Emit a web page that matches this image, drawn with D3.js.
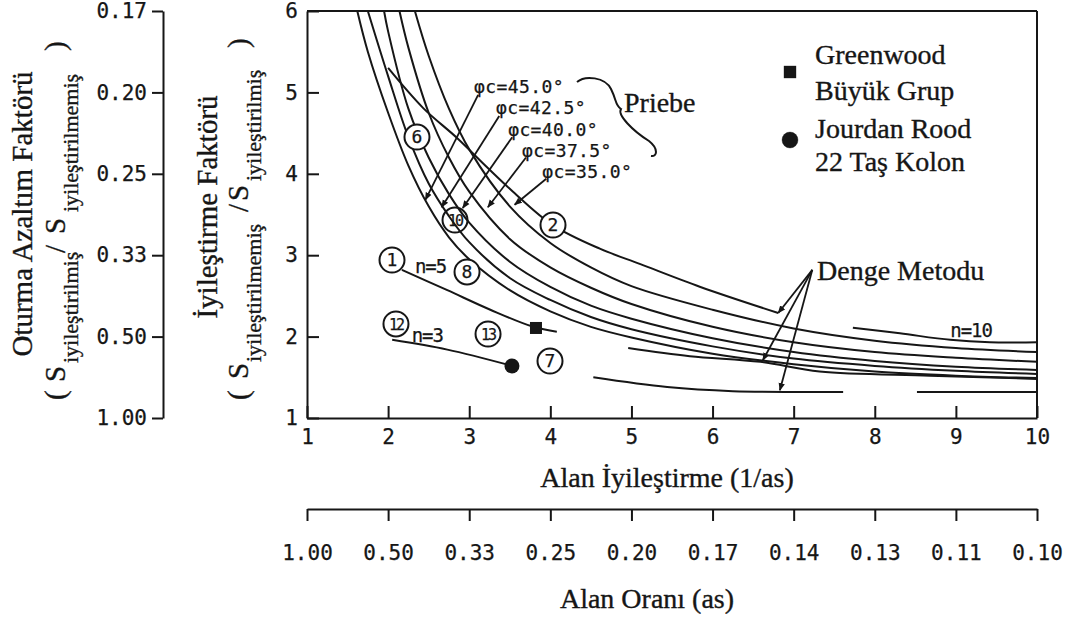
<!DOCTYPE html>
<html>
<head>
<meta charset="utf-8">
<script src="https://cdn.jsdelivr.net/npm/d3@7"></script>
<style>
  body { margin: 0; background: #fff; }
  svg text { fill: #161616; }
  .mono { font-family: "DejaVu Sans Mono", "Liberation Mono", monospace; stroke: #161616; stroke-width: 0.25px; }
  .serif { font-family: "Liberation Serif", "Times New Roman", serif; stroke: #161616; stroke-width: 0.35px; }
  .axis path, .axis line { stroke: #161616; stroke-width: 2; }
</style>
</head>
<body>
<svg id="chart" width="1065" height="619"></svg>
<script>
// ---- axis ticks ----------------------------------------------------------
const areaTicks = [1, 2, 3, 4, 5, 6, 7, 8, 9, 10];
const areaRatioLabels = ["1.00", "0.50", "0.33", "0.25", "0.20", "0.17", "0.14", "0.13", "0.11", "0.10"];
const factorTicks = [1, 2, 3, 4, 5, 6];
const settlementLabels = ["1.00", "0.50", "0.33", "0.25", "0.20", "0.17"];

// ---- Priebe curves: [A/As, improvement factor] ---------------------------
const priebeAngles = ["45.0", "42.5", "40.0", "37.5", "35.0"];
const priebe45 = [[2.33, 6.0], [2.5, 5.45], [2.75, 4.8], [3, 4.3], [3.5, 3.6], [4, 3.15], [4.5, 2.85], [5, 2.62], [6, 2.33], [7, 2.10], [8, 1.95], [9, 1.86], [10, 1.81]];
const priebe425 = [[2.14, 6.0], [2.25, 5.55], [2.5, 4.75], [2.75, 4.2], [3, 3.78], [3.5, 3.2], [4, 2.85], [4.5, 2.6], [5, 2.4], [6, 2.12], [7, 1.93], [8, 1.81], [9, 1.74], [10, 1.69]];
const priebe40 = [[1.95, 6.0], [2, 5.75], [2.25, 4.8], [2.5, 4.2], [2.75, 3.75], [3, 3.4], [3.5, 2.92], [4, 2.61], [4.5, 2.38], [5, 2.22], [6, 1.98], [7, 1.81], [8, 1.70], [9, 1.63], [10, 1.59]];
const priebe375 = [[1.75, 6.0], [2, 5.2], [2.25, 4.45], [2.5, 3.88], [2.75, 3.48], [3, 3.16], [3.5, 2.72], [4, 2.45], [4.5, 2.24], [5, 2.09], [6, 1.88], [7, 1.73], [8, 1.64], [9, 1.58], [10, 1.54]];
const priebe35 = [[1.62, 6.0], [1.75, 5.5], [2, 4.75], [2.25, 4.1], [2.5, 3.6], [2.75, 3.22], [3, 2.95], [3.5, 2.57], [4, 2.31], [4.5, 2.12], [5, 1.99], [6, 1.79], [7, 1.66], [8, 1.57], [9, 1.52], [10, 1.49]];

// label anchor [x, y] and leader line [from, to] for each angle
const angleLabelPos = [[3.06, 4.99], [3.33, 4.73], [3.48, 4.47], [3.65, 4.21], [3.90, 3.95]];
const angleLeaders = [
  [[3.11, 4.97], [2.46, 3.68]],
  [[3.37, 4.71], [2.66, 3.59]],
  [[3.53, 4.45], [2.92, 3.58]],
  [[3.70, 4.20], [3.23, 3.59]],
  [[3.95, 3.94], [3.56, 3.62]]
];

// ---- equilibrium method (Denge Metodu) curves -----------------------------
const dengeUpper = [[2.0, 5.30], [2.43, 4.81], [2.85, 4.44], [3.22, 4.08], [3.54, 3.78], [4.03, 3.37], [4.61, 3.08], [5.11, 2.89], [5.85, 2.61], [6.81, 2.29]];
const dengeN10 = [[7.73, 2.11], [8.31, 2.04], [8.93, 1.96], [9.42, 1.93], [10, 1.93]];
const dengeMiddle = [[4.96, 1.86], [5.72, 1.76], [6.59, 1.69], [7.32, 1.57], [8.68, 1.52], [10, 1.48]];
const dengeLowerA = [[4.53, 1.50], [5.44, 1.38], [6.25, 1.33], [7.61, 1.32]];
const dengeLowerB = [[8.52, 1.32], [10, 1.32]];
const dengeArrowFrom = [7.23, 2.82];
const dengeArrowTo = [[6.81, 2.29], [6.62, 1.71], [6.83, 1.34]];

// ---- field observations ---------------------------------------------------
const caseIds = ["6", "10", "2", "1", "8", "12", "13", "7"];
const caseX = [2.356, 2.825, 4.033, 2.048, 2.973, 2.097, 3.232, 3.996];
const caseY = [4.452, 3.432, 3.371, 2.941, 2.794, 2.155, 2.032, 1.700];
const greenwoodLine = [[2.17, 2.82], [2.73, 2.57], [3.26, 2.33], [3.79, 2.12], [4.08, 2.06]];
const greenwoodPoint = [3.823, 2.106];
const jourdanLine = [[2.05, 1.96], [2.73, 1.84], [3.53, 1.64]];
const jourdanPoint = [3.527, 1.639];
const nLabels = [{ t: "n=5", x: 2.33, y: 2.78 }, { t: "n=3", x: 2.29, y: 1.93 }, { t: "n=10", x: 8.93, y: 1.995 }];

// ---- scales ----------------------------------------------------------------
const svg = d3.select("#chart");
const x = d3.scaleLinear().domain([1, 10]).range([307, 1037]);
const y = d3.scaleLinear().domain([1, 6]).range([418, 11]);
const ink = "#161616";

const defs = svg.append("defs");
defs.append("marker").attr("id", "arrow").attr("viewBox", "0 0 10 10")
  .attr("refX", 9).attr("refY", 5).attr("markerWidth", 8).attr("markerHeight", 8)
  .attr("markerUnits", "userSpaceOnUse").attr("orient", "auto")
  .append("path").attr("d", "M0,1 L10,5 L0,9 Z").attr("fill", ink);

// ---- main axes -------------------------------------------------------------
const tickFont = (g, size) => g.selectAll("text")
  .attr("class", "mono").style("font-size", size + "px").attr("fill", ink);

svg.append("g").attr("class", "axis").attr("transform", `translate(0,${y(1)})`)
  .call(d3.axisBottom(x).tickValues(areaTicks).tickFormat(d3.format("d"))
    .tickSizeInner(-12).tickSizeOuter(0).tickPadding(11))
  .call(g => tickFont(g, 21));

svg.append("g").attr("class", "axis").attr("transform", `translate(${x(1)},0)`)
  .call(d3.axisLeft(y).tickValues(factorTicks).tickFormat(d3.format("d"))
    .tickSizeInner(-12).tickSizeOuter(0).tickPadding(9))
  .call(g => tickFont(g, 21));

// frame top and right
svg.append("line").attr("x1", x(1)).attr("x2", x(10)).attr("y1", y(6)).attr("y2", y(6))
  .attr("stroke", ink).attr("stroke-width", 2);
svg.append("line").attr("x1", x(10)).attr("x2", x(10)).attr("y1", y(6)).attr("y2", y(1))
  .attr("stroke", ink).attr("stroke-width", 2);

// settlement reduction axis (left)
svg.append("g").attr("class", "axis").attr("transform", "translate(163,0)")
  .call(d3.axisLeft(y).tickValues(factorTicks).tickFormat((d, i) => settlementLabels[i])
    .tickSize(11).tickSizeOuter(0).tickPadding(5))
  .call(g => tickFont(g, 21));

// area ratio axis (bottom)
svg.append("g").attr("class", "axis").attr("transform", "translate(0,509)")
  .call(d3.axisBottom(x).tickValues(areaTicks).tickFormat((d, i) => areaRatioLabels[i])
    .tickSize(12).tickSizeOuter(0).tickPadding(24))
  .call(g => tickFont(g, 21));

// ---- axis titles -------------------------------------------------------------
svg.append("text").attr("class", "serif").attr("x", 667).attr("y", 487)
  .attr("text-anchor", "middle").style("font-size", "28px").text("Alan İyileştirme (1/as)");
svg.append("text").attr("class", "serif").attr("x", 647).attr("y", 608)
  .attr("text-anchor", "middle").style("font-size", "28px").text("Alan Oranı (as)");

function rotatedTitle(bx, cy, label) {
  svg.append("text").attr("class", "serif")
    .attr("transform", `translate(${bx},${cy}) rotate(-90)`)
    .attr("text-anchor", "middle").style("font-size", "29px").text(label);
}
rotatedTitle(32, 214, "Oturma Azaltım Faktörü");
rotatedTitle(217, 207, "İyileştirme Faktörü");

// ratio line with subscripts, written bottom-to-top
function ratioTitle(bx, parts) {
  const t = svg.append("text").attr("class", "serif")
    .attr("transform", `translate(${bx},400) rotate(-90)`);
  parts.forEach(p => {
    t.append("tspan").attr("x", p.at).attr("y", p.sub ? 13 : 0)
      .style("font-size", p.sub ? "22px" : "29px").text(p.s);
  });
}
ratioTitle(65, [
  { s: "(", at: 0 }, { s: "S", at: 18 }, { s: "iyileştirilmiş", at: 37, sub: true },
  { s: "/", at: 147 }, { s: "S", at: 166 }, { s: "iyileştirilmemiş", at: 188, sub: true },
  { s: ")", at: 349 }
]);
ratioTitle(248, [
  { s: "(", at: 0 }, { s: "S", at: 21 }, { s: "iyileştirilmemiş", at: 38, sub: true },
  { s: "/", at: 188 }, { s: "S", at: 199 }, { s: "iyileştirilmiş", at: 219, sub: true },
  { s: ")", at: 352 }
]);

// ---- curves ----------------------------------------------------------------
const line = d3.line().x(d => x(d[0])).y(d => y(d[1])).curve(d3.curveCatmullRom.alpha(0.5));
const plot = svg.append("g").attr("fill", "none").attr("stroke", ink).attr("stroke-width", 2);

[priebe45, priebe425, priebe40, priebe375, priebe35].forEach(s => plot.append("path").attr("d", line(s)));
[dengeUpper, dengeN10, dengeMiddle, dengeLowerA, dengeLowerB].forEach(s => plot.append("path").attr("d", line(s)));
[greenwoodLine, jourdanLine].forEach(s => plot.append("path").attr("d", line(s)));

// leaders from angle labels to their curves
angleLeaders.forEach(([a, b]) => plot.append("line")
  .attr("x1", x(a[0])).attr("y1", y(a[1])).attr("x2", x(b[0])).attr("y2", y(b[1]))
  .attr("stroke-width", 1.8).attr("marker-end", "url(#arrow)"));

// arrows from the equilibrium method label
dengeArrowTo.forEach(b => plot.append("line")
  .attr("x1", x(dengeArrowFrom[0])).attr("y1", y(dengeArrowFrom[1]))
  .attr("x2", x(b[0])).attr("y2", y(b[1]))
  .attr("stroke-width", 1.8).attr("marker-end", "url(#arrow)"));

// angle labels
angleLabelPos.forEach((p, i) => {
  svg.append("text").attr("class", "mono").attr("x", x(p[0])).attr("y", y(p[1]))
    .style("font-size", "18px").style("letter-spacing", "0.4px")
    .text("φc=" + priebeAngles[i] + "°");
});

// Priebe brace and label
const braceX = 577, braceY = 79;
svg.append("path")
  .attr("d", `M${braceX},${braceY + 3} C${braceX + 8},${braceY - 4} ${braceX + 28},${braceY - 2} ${braceX + 34},${braceY + 10}
              C${braceX + 40},${braceY + 22} ${braceX + 38},${braceY + 26} ${braceX + 44},${braceY + 30}
              C${braceX + 40},${braceY + 36} ${braceX + 56},${braceY + 52} ${braceX + 72},${braceY + 62}
              C${braceX + 82},${braceY + 70} ${braceX + 80},${braceY + 78} ${braceX + 74},${braceY + 77}`)
  .attr("fill", "none").attr("stroke", ink).attr("stroke-width", 2);
svg.append("text").attr("class", "serif").attr("x", 624).attr("y", 112)
  .style("font-size", "28px").text("Priebe");

svg.append("text").attr("class", "serif").attr("x", 817).attr("y", 280)
  .style("font-size", "28px").text("Denge Metodu");

// n labels
nLabels.forEach(d => svg.append("text").attr("class", "mono")
  .attr("x", x(d.x)).attr("y", y(d.y)).style("font-size", "19px")
  .style("letter-spacing", "-1px").text(d.t));

// field points
svg.append("rect").attr("x", x(greenwoodPoint[0]) - 6).attr("y", y(greenwoodPoint[1]) - 6)
  .attr("width", 12).attr("height", 12).attr("fill", ink);
svg.append("circle").attr("cx", x(jourdanPoint[0])).attr("cy", y(jourdanPoint[1]))
  .attr("r", 7.5).attr("fill", ink);

// numbered case markers
caseIds.forEach((id, i) => {
  const g = svg.append("g").attr("transform", `translate(${x(caseX[i])},${y(caseY[i])})`);
  g.append("circle").attr("r", 12.5).attr("fill", id === "10" ? "none" : "#fff")
    .attr("stroke", ink).attr("stroke-width", 2);
  g.append("text").attr("class", "mono").attr("text-anchor", "middle").attr("y", 6)
    .style("font-size", id.length > 1 ? "15px" : "18px")
    .style("letter-spacing", id.length > 1 ? "-2px" : "0px").text(id);
});

// ---- legend ------------------------------------------------------------------
const legend = svg.append("g").attr("class", "serif").style("font-size", "28px");
legend.append("rect").attr("x", 784).attr("y", 66).attr("width", 12).attr("height", 12).attr("fill", ink);
legend.append("text").attr("x", 815).attr("y", 64).text("Greenwood");
legend.append("text").attr("x", 815).attr("y", 100).text("Büyük Grup");
legend.append("circle").attr("cx", 790).attr("cy", 140).attr("r", 8).attr("fill", ink);
legend.append("text").attr("x", 815).attr("y", 138).text("Jourdan Rood");
legend.append("text").attr("x", 815).attr("y", 171).text("22 Taş Kolon");
</script>
</body>
</html>
